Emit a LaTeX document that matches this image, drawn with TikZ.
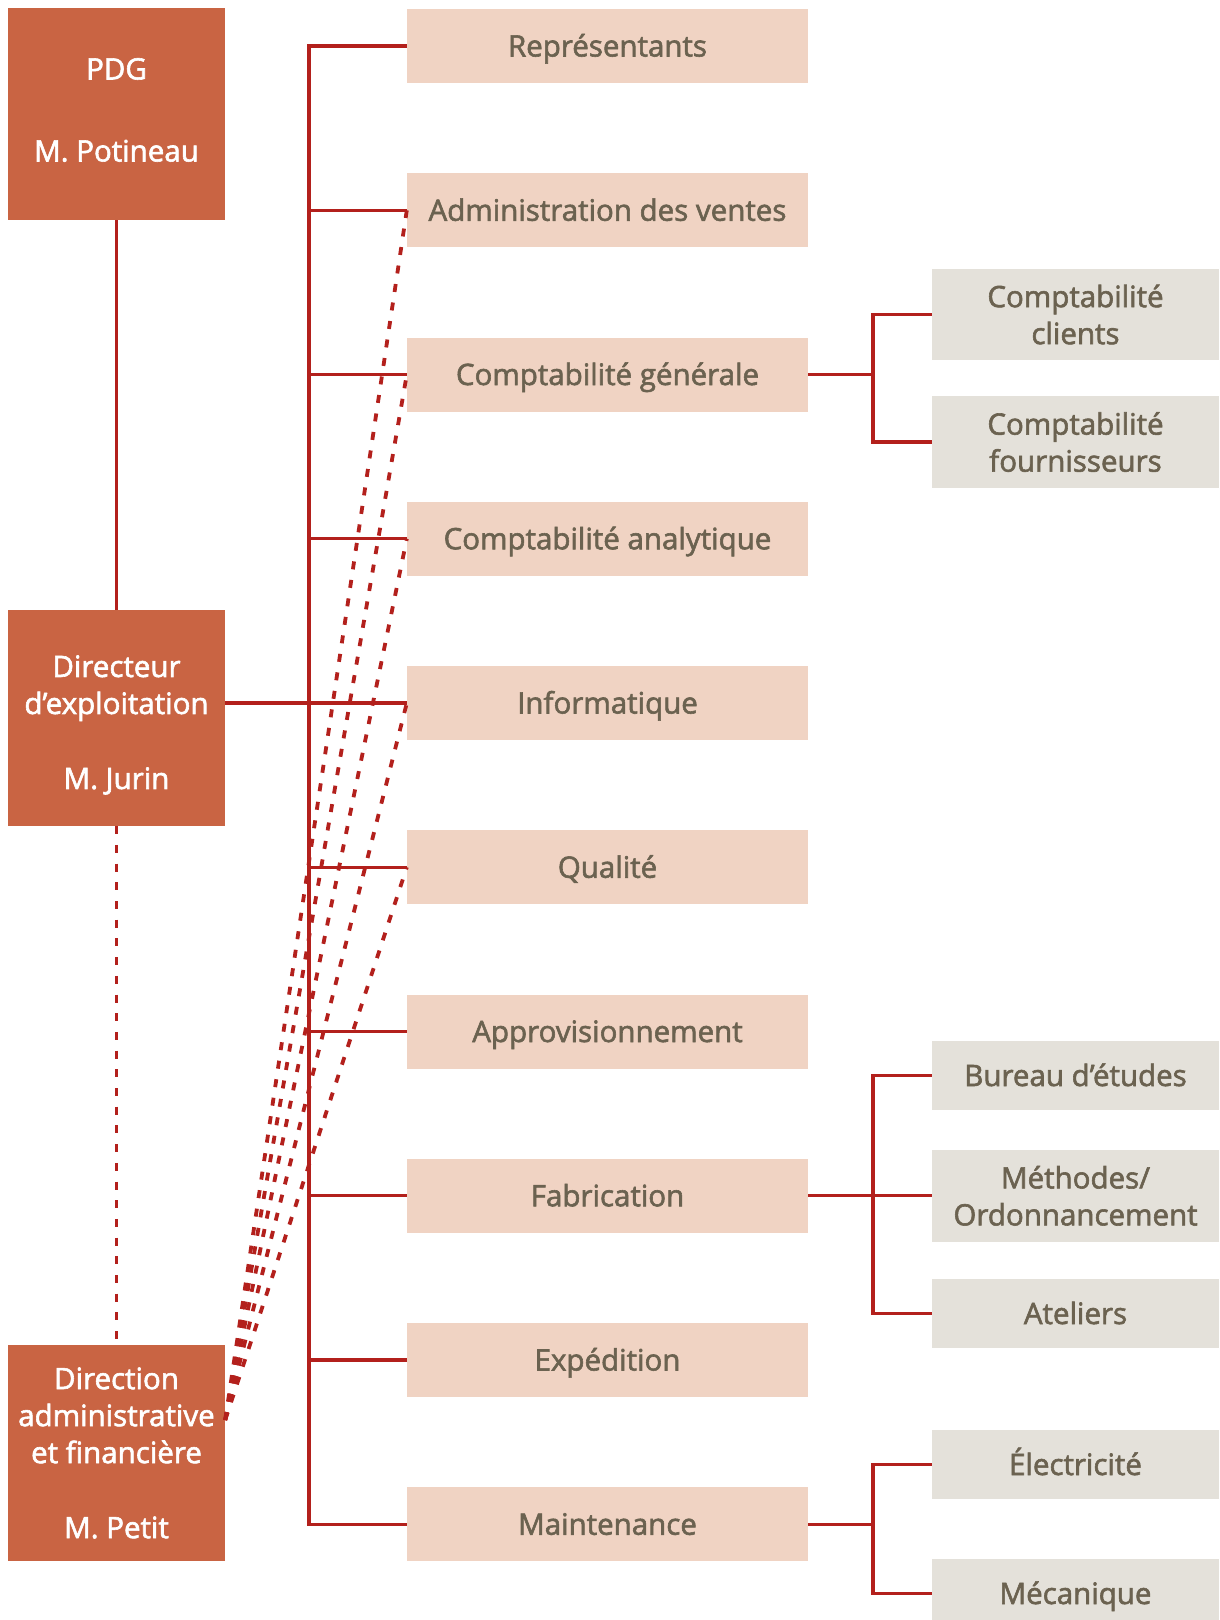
\documentclass[tikz,border=0pt]{standalone}
\usepackage{fontspec}
\setmainfont{Open Sans}[FakeBold=2]
\definecolor{leadfill}{HTML}{C96443}
\definecolor{deptfill}{HTML}{F0D3C3}
\definecolor{subfill}{HTML}{E4E1DA}
\definecolor{linered}{HTML}{B3201C}
\definecolor{txtgrey}{HTML}{6B6250}
\begin{document}
\begin{tikzpicture}[x=1pt,y=-1pt,
  basefont/.style={font=\fontsize{29.5}{37}\selectfont},
  leadbox/.style={basefont, fill=leadfill, text=white, minimum width=217pt, minimum height=216pt, inner sep=0pt, align=center},
  deptbox/.style={basefont, fill=deptfill, text=txtgrey, minimum width=401pt, minimum height=74pt, inner sep=0pt, text height=21pt, text depth=0pt},
  subbox/.style={basefont, fill=subfill, text=txtgrey, minimum width=287pt, inner sep=0pt, align=center},
  oneline/.style={text height=21pt, text depth=0pt},
  conn/.style={draw=linered, line width=3.3pt},
  dashconn/.style={draw=linered, line width=3.8pt, dash pattern=on 8pt off 10.7pt}
]
\useasboundingbox (0,0) rectangle (1219,1620);
\clip (0,0) rectangle (1219,1620);

% left column
\node[leadbox, minimum height=212pt] (pdg) at (116.5,114) {PDG\\[45pt]M. Potineau\\[-28.6pt]\mbox{}};
\node[leadbox] (dir) at (116.5,718) {\mbox{}\\[-1.5pt]Directeur\\d’exploitation\\[38pt]M. Jurin};
\node[leadbox] (daf) at (116.5,1453) {Direction\\administrative\\et financière\\[38pt]M. Petit};

% middle column
\node[deptbox] (rep)  at (607.5,46)      {Représentants};
\node[deptbox] (adv)  at (607.5,210.25)  {Administration des ventes};
\node[deptbox] (cg)   at (607.5,374.5)   {Comptabilité générale};
\node[deptbox] (ca)   at (607.5,538.75)  {Comptabilité analytique};
\node[deptbox] (info) at (607.5,703)     {Informatique};
\node[deptbox] (qual) at (607.5,867.25)  {Qualité};
\node[deptbox] (appro) at (607.5,1031.5) {Approvisionnement};
\node[deptbox] (fab)  at (607.5,1195.75) {Fabrication};
\node[deptbox] (exp)  at (607.5,1360)    {Expédition};
\node[deptbox] (maint) at (607.5,1524.25) {Maintenance};

% right column
\node[subbox, minimum height=91pt] (cc) at (1075.5,314.5) {Comptabilité\\clients};
\node[subbox, minimum height=92pt] (cf) at (1075.5,442) {Comptabilité\\fournisseurs};
\node[subbox, oneline, minimum height=69pt] (be) at (1075.5,1075.5) {Bureau d’études};
\node[subbox, minimum height=92pt] (meth) at (1075.5,1195.75) {Méthodes/\\Ordonnancement};
\node[subbox, oneline, minimum height=69pt] (atel) at (1075.5,1313.5) {Ateliers};
\node[subbox, oneline, minimum height=69pt] (elec) at (1075.5,1464.5) {Électricité};
\node[subbox, oneline, minimum height=69pt] (meca) at (1075.5,1593.5) {Mécanique};

% coordinates
\coordinate (tx) at (309,700);
\coordinate (bx1) at (873,374.5);
\coordinate (bx2) at (873,1195.75);
\coordinate (bx3) at (873,1524.25);
\coordinate (dafout) at ([yshift=33pt]daf.east);

% hierarchy
\draw[conn] (pdg.south) -- (dir.north);
\draw[dashconn] (dir.south) -- (daf.north);

% trunk and branches
\draw[conn] (rep.west) -| (tx) |- (maint.west);
\foreach \n in {adv,cg,ca,qual,appro,fab,exp}
  \draw[conn] (tx |- \n.west) -- (\n.west);
\draw[conn] (dir.east |- info.west) -- (info.west);

% dashed functional links
\foreach \n in {adv,cg,ca,info,qual}
  \draw[dashconn] (dafout) -- (\n.west);

% sub brackets
\draw[conn] (cg.east) -- (bx1);
\draw[conn] (cc.west) -| (bx1) |- (cf.west);
\draw[conn] (fab.east) -- (meth.west);
\draw[conn] (be.west) -| (bx2) |- (atel.west);
\draw[conn] (maint.east) -- (bx3);
\draw[conn] (elec.west) -| (bx3) |- (meca.west);
\end{tikzpicture}
\end{document}
